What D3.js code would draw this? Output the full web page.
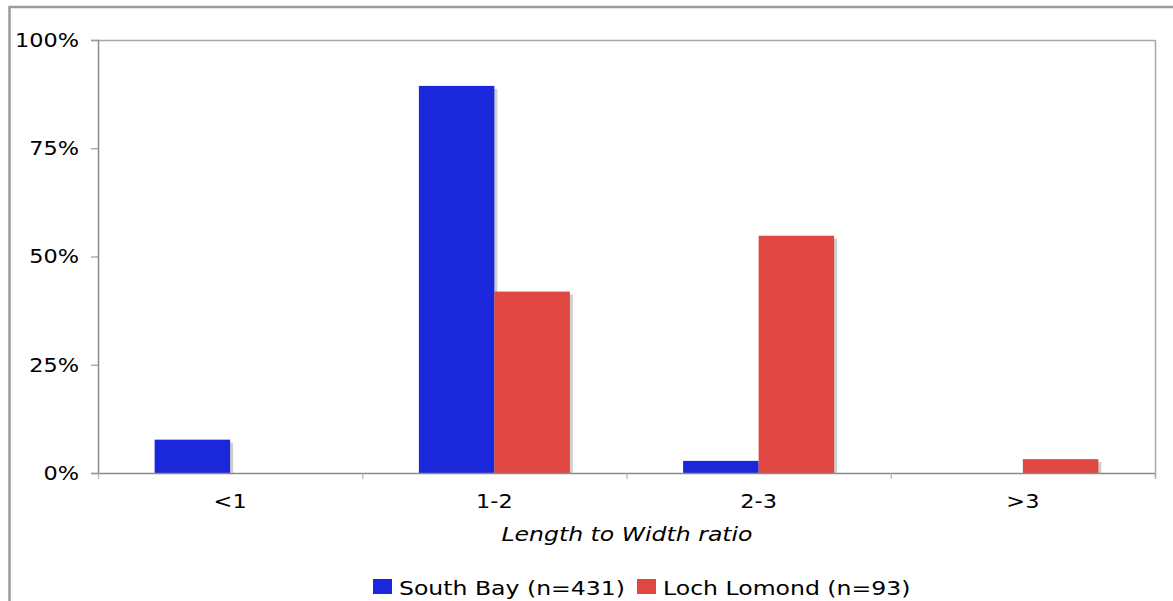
<!DOCTYPE html>
<html><head><meta charset="utf-8">
<script src="https://cdn.jsdelivr.net/npm/d3@7"></script>
<style>
html,body{margin:0;padding:0;background:#fff;}
svg{display:block;}
text{font-family:"DejaVu Sans",Verdana,sans-serif;fill:#000;}
</style></head>
<body>
<svg id="chart" width="1173" height="601"></svg>
<script>
const categories = ["<1", "1-2", "2-3", ">3"];
const seriesNames = ["South Bay (n=431)", "Loch Lomond (n=93)"];
const southBay = [0.077, 0.894, 0.028, 0];
const lochLomond = [0, 0.419, 0.548, 0.032];
const yTicks = [0, 0.25, 0.5, 0.75, 1];
const yTickLabels = ["0%", "25%", "50%", "75%", "100%"];
const xTitle = "Length to Width ratio";
const colors = ["#1B27DB", "#E04642"];

const svg = d3.select("#chart");
const W = 1173, H = 601;
const m = {left: 98, top: 40, right: 1155, bottom: 473};

// outer frame
svg.append("rect").attr("x", 9.5).attr("y", 7).attr("width", W + 20).attr("height", H + 20)
  .attr("fill", "none").attr("stroke", "#9a9a9a").attr("stroke-width", 2.5);

const x0 = d3.scaleBand().domain(categories).range([m.left, m.right]).paddingInner(0).paddingOuter(0);
const x1 = d3.scaleBand().domain([0, 1]).range([0, x0.bandwidth()]).paddingInner(0).paddingOuter(0.75);
const y = d3.scaleLinear().domain([0, 1]).range([m.bottom, m.top]);

// plot frame top and right
svg.append("line").attr("x1", m.left).attr("x2", m.right).attr("y1", m.top + 0.5).attr("y2", m.top + 0.5)
  .attr("stroke", "#a8a8a8").attr("stroke-width", 1.5);
svg.append("line").attr("x1", m.right + 0.5).attr("x2", m.right + 0.5).attr("y1", m.top).attr("y2", m.bottom + 5)
  .attr("stroke", "#a8a8a8").attr("stroke-width", 1.5);

const data = [];
categories.forEach((c, i) => {
  [southBay, lochLomond].forEach((s, j) => data.push({cat: c, s: j, v: s[i]}));
});
const bars = data.filter(d => d.v > 0);

// shadows
svg.append("g").selectAll("rect").data(bars).join("rect")
  .attr("x", d => x0(d.cat) + x1(d.s) + 3)
  .attr("y", d => y(d.v) + 3)
  .attr("width", x1.bandwidth())
  .attr("height", d => m.bottom - y(d.v) - 3)
  .attr("fill", "#cfcfcf");
// bars
svg.append("g").selectAll("rect").data(bars).join("rect")
  .attr("x", d => x0(d.cat) + x1(d.s))
  .attr("y", d => y(d.v))
  .attr("width", x1.bandwidth())
  .attr("height", d => m.bottom - y(d.v))
  .attr("fill", d => colors[d.s]);

// y axis
const yAxis = svg.append("g").attr("transform", `translate(${m.left},0)`)
  .call(d3.axisLeft(y).tickValues(yTicks).tickFormat((d, i) => yTickLabels[i]).tickSize(7).tickPadding(12));
yAxis.select(".domain").attr("stroke", "#8a8a8a").attr("stroke-width", 1.5);
yAxis.selectAll(".tick line").attr("stroke", "#9a9a9a").attr("stroke-width", 1.2);
yAxis.selectAll("text").attr("font-size", 20).attr("fill", "#000").attr("font-family", "DejaVu Sans").attr("class", "stretch12");

// x axis (ticks at category boundaries)
const xg = svg.append("g").attr("transform", `translate(0,${m.bottom})`);
xg.append("line").attr("x1", m.left).attr("x2", m.right).attr("y1", 0.5).attr("y2", 0.5)
  .attr("stroke", "#8a8a8a").attr("stroke-width", 1.5);
const bounds = categories.map(c => x0(c)).concat([m.right]);
xg.selectAll(".bt").data(bounds).join("line").attr("class", "bt")
  .attr("x1", d => d + 0.5).attr("x2", d => d + 0.5).attr("y1", 0).attr("y2", 6)
  .attr("stroke", "#b0b0b0").attr("stroke-width", 1.2);
xg.selectAll(".xl").data(categories).join("text").attr("class", "xl stretch12")
  .attr("x", d => x0(d) + x0.bandwidth() / 2).attr("y", 35)
  .attr("text-anchor", "middle").attr("font-size", 20).text(d => d);

// x title
svg.append("text").attr("class", "stretch124").attr("x", 627).attr("y", 541)
  .attr("text-anchor", "middle").attr("font-size", 19).attr("font-style", "italic").text(xTitle);

// legend
const legendX = [373, 637];
const lg = svg.append("g");
seriesNames.forEach((n, i) => {
  lg.append("rect").attr("x", legendX[i]).attr("y", 579).attr("width", 19).attr("height", 15).attr("fill", colors[i]);
  lg.append("text").attr("class", "stretch124").attr("x", legendX[i] + 26).attr("y", 595)
    .attr("font-size", 19).text(n);
});

// horizontal stretching of text to match the reference's wide font
function stretch(sel, f) {
  sel.each(function() {
    const len = this.getComputedTextLength();
    d3.select(this).attr("textLength", len * f).attr("lengthAdjust", "spacingAndGlyphs");
  });
}
stretch(svg.selectAll(".stretch12"), 1.12);
stretch(svg.selectAll(".stretch124"), 1.24);
</script>
</body></html>
